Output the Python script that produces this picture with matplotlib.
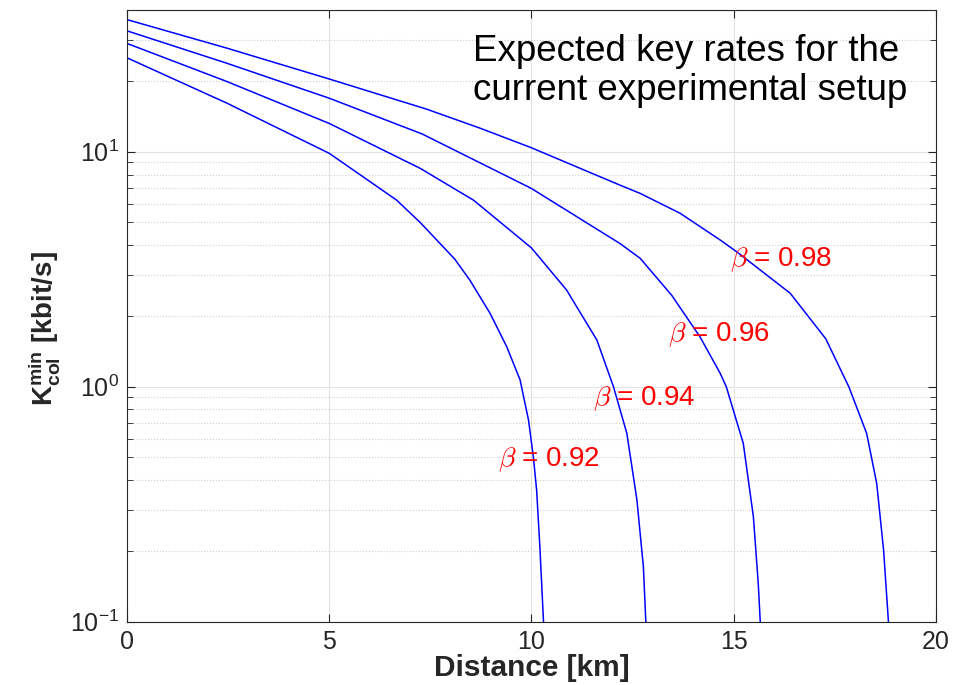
import matplotlib
matplotlib.use('Agg')
import matplotlib.pyplot as plt
from matplotlib.ticker import LogLocator, NullFormatter, FixedLocator

plt.rcParams['font.family'] = ['Liberation Sans', 'DejaVu Sans']
plt.rcParams['mathtext.fontset'] = 'custom'
plt.rcParams['mathtext.rm'] = 'Liberation Sans'
plt.rcParams['mathtext.it'] = 'Liberation Sans:italic'
plt.rcParams['mathtext.bf'] = 'Liberation Sans:bold'
plt.rcParams['axes.unicode_minus'] = False

# odleglosc [km] i K_col^min [kbit/s]
dist_098 = [0, 2.47, 5.0, 7.4, 8.73, 10.0, 12.19, 12.69, 13.68, 14.67, 15.08, 16.40, 17.28, 17.85, 18.29, 18.54, 18.71, 18.83]
rate_098 = [36.5, 27.6, 20.4, 15.2, 12.6, 10.4, 7.21, 6.65, 5.47, 4.21, 3.75, 2.50, 1.60, 1.0, 0.634, 0.388, 0.202, 0.1]

dist_096 = [0, 2.47, 5.0, 7.3, 10.0, 12.19, 12.69, 13.47, 14.17, 14.67, 14.82, 15.24, 15.49, 15.61, 15.66]
rate_096 = [32.7, 23.8, 16.9, 11.9, 6.98, 4.07, 3.52, 2.45, 1.63, 1.14, 1.0, 0.574, 0.28, 0.146, 0.1]

dist_094 = [0, 2.47, 5.0, 7.25, 8.57, 10.0, 10.87, 11.12, 11.62, 12.03, 12.36, 12.61, 12.77, 12.83]
rate_094 = [28.9, 19.9, 13.2, 8.5, 6.22, 3.9, 2.58, 2.19, 1.58, 1.0, 0.634, 0.33, 0.171, 0.1]

dist_092 = [0, 2.47, 5.0, 6.67, 7.25, 8.1, 8.48, 8.98, 9.39, 9.72, 9.93, 10.05, 10.13, 10.21, 10.30]
rate_092 = [25.1, 16.1, 9.85, 6.22, 5.0, 3.5, 2.84, 2.05, 1.48, 1.07, 0.72, 0.50, 0.363, 0.208, 0.1]

betas = ['0.98', '0.96', '0.94', '0.92']
x_ticks = [0, 5, 10, 15, 20]

fig = plt.figure(figsize=(9.63, 6.85), dpi=100)
ax = fig.add_axes([0.1319, 0.0924, 0.8398, 0.8926])

for d, r in [(dist_098, rate_098), (dist_096, rate_096), (dist_094, rate_094), (dist_092, rate_092)]:
    ax.plot(d, r, color='blue', linewidth=1.1)

ax.set_yscale('log')
ax.set_xlim(0, 20)
ax.set_ylim(0.1, 40)
ax.xaxis.set_major_locator(FixedLocator(x_ticks))
ax.yaxis.set_minor_locator(LogLocator(base=10, subs=range(2, 10)))
ax.yaxis.set_minor_formatter(NullFormatter())

# siatka jak w MATLABie
ax.set_axisbelow(True)
ax.grid(which='major', color='#e3e3e3', linewidth=0.8, linestyle='-')
ax.yaxis.grid(which='minor', color='#cfcfcf', linewidth=0.8, linestyle=':')

ax.tick_params(which='both', direction='in', top=True, right=True, colors='#262626')
ax.tick_params(which='major', length=6, labelsize=18, pad=6)
ax.tick_params(which='minor', length=4)
for s in ax.spines.values():
    s.set_color('#262626')
    s.set_linewidth(0.8)

# etykiety beta
lab_pos = [(14.9, 3.46), (13.39, 1.66), (11.53, 0.887), (9.18, 0.488)]
for b, (xx, yy) in zip(betas, lab_pos):
    ax.text(xx, yy, r'$\beta$ = ' + b, color='red', fontsize=20, va='center', ha='left',
            math_fontfamily='cm')

ax.text(0.428, 0.9007, 'Expected key rates for the\ncurrent experimental setup',
        transform=ax.transAxes, fontsize=26.5, va='center', ha='left', linespacing=1.15)

ax.set_xlabel('Distance [km]', fontsize=21.5, fontweight='bold', color='#262626')
ax.set_ylabel(r'$\mathbf{K}^{\mathbf{min}}_{\mathbf{col}}$ [kbit/s]', fontsize=20,
              fontweight='bold', color='#262626')
ax.xaxis.set_label_coords(0.501, -0.052)
ax.yaxis.set_label_coords(-0.080, 0.48)

fig.savefig('out.png', dpi=100)
